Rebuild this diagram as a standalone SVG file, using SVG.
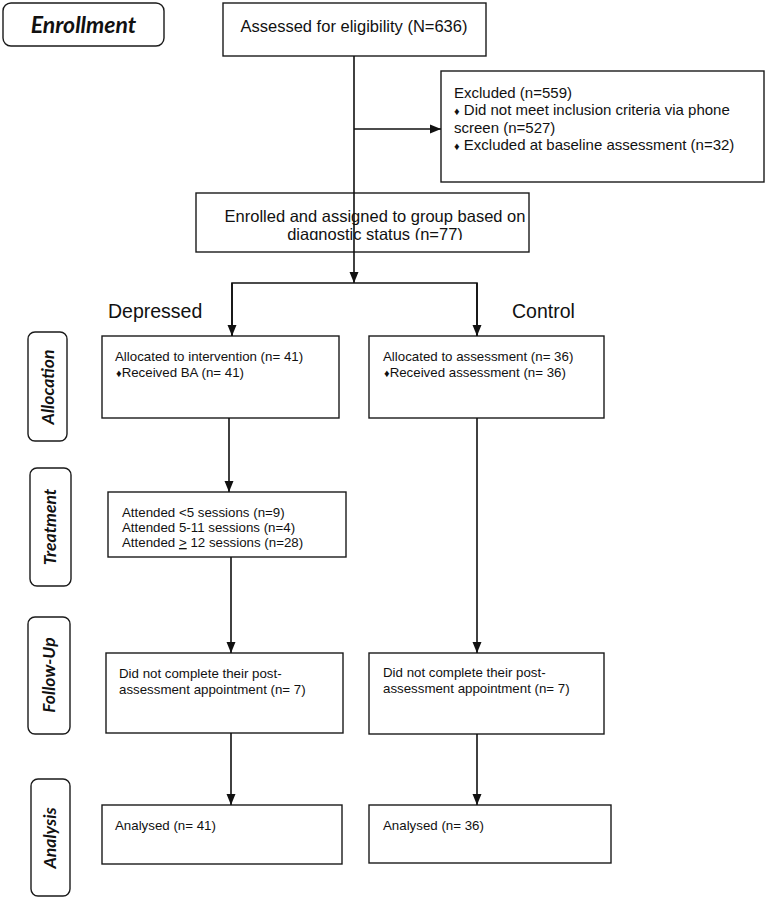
<svg xmlns="http://www.w3.org/2000/svg" width="768" height="900" viewBox="0 0 768 900">
<style>
.box{fill:#fff;stroke:#1a1a1a;stroke-width:1.4}
.lab{fill:#fff;stroke:#1a1a1a;stroke-width:1.4}
.t{font-family:"Liberation Sans",Arial,sans-serif;fill:#111}
.s13{font-size:13.3px}
.s15{font-size:15px}
.s16{font-size:16.5px}
.s19{font-size:19.5px}
.stage{font-family:Lato,"Open Sans",sans-serif;font-weight:bold;font-style:italic;fill:#111}
.b{font-size:11px}
.c{fill:none;stroke:#111;stroke-width:1.6}
</style>
<defs>
<marker id="ah" markerUnits="userSpaceOnUse" markerWidth="11" markerHeight="10" refX="11" refY="5" orient="auto">
<path d="M0,0.5 L11,5 L0,9.5 z" fill="#111"/>
</marker>
<clipPath id="clipEnr"><rect x="196" y="193" width="334" height="47"/></clipPath>
</defs>

<g id="stage-enrollment">
<rect class="lab" x="3" y="3" width="161" height="43" rx="8"/>
<text class="stage" x="83.5" y="33" font-size="23" text-anchor="middle">Enrollment</text>
</g>
<g id="stage-allocation">
<rect class="lab" x="28" y="332" width="39" height="109" rx="7"/>
<text class="stage" font-size="17.5" text-anchor="middle" transform="translate(54 387) rotate(-90)">Allocation</text>
</g>
<g id="stage-treatment">
<rect class="lab" x="30" y="468" width="41" height="118" rx="7"/>
<text class="stage" font-size="17.5" text-anchor="middle" transform="translate(56 527) rotate(-90)">Treatment</text>
</g>
<g id="stage-followup">
<rect class="lab" x="28" y="617" width="42" height="117" rx="7"/>
<text class="stage" font-size="17.5" text-anchor="middle" transform="translate(55 675) rotate(-90)">Follow-Up</text>
</g>
<g id="stage-analysis">
<rect class="lab" x="31" y="779" width="39" height="117" rx="7"/>
<text class="stage" font-size="17.5" text-anchor="middle" transform="translate(56 838) rotate(-90)">Analysis</text>
</g>

<g id="assessed">
<rect class="box" x="223" y="3" width="263" height="53"/>
<text class="t s16" x="354" y="32" text-anchor="middle">Assessed for eligibility (N=636)</text>
</g>
<g id="excluded">
<rect class="box" x="441" y="71" width="323" height="111"/>
<text class="t s15" x="454" y="98">Excluded (n=559)</text>
<text class="t s15" x="454" y="115"><tspan class="b">♦</tspan> Did not meet inclusion criteria via phone</text>
<text class="t s15" x="454" y="133">screen (n=527)</text>
<text class="t s15" x="454" y="150"><tspan class="b">♦</tspan> Excluded at baseline assessment (n=32)</text>
</g>
<g id="enrolled">
<rect class="box" x="196" y="193" width="333" height="59"/>
<g clip-path="url(#clipEnr)">
<text class="t s16" x="375" y="222" text-anchor="middle">Enrolled and assigned to group based on</text>
<text class="t s16" x="375" y="240" text-anchor="middle">diagnostic status (n=77)</text>
</g>
</g>

<g id="label-depressed"><text class="t s19" x="108" y="318">Depressed</text></g>
<g id="label-control"><text class="t s19" x="512" y="318">Control</text></g>

<g id="alloc-dep">
<rect class="box" x="102" y="336" width="237" height="82"/>
<text class="t s13" x="115" y="361">Allocated to intervention (n= 41)</text>
<text class="t s13" x="116" y="377"><tspan class="b">♦</tspan>Received BA (n= 41)</text>
</g>
<g id="alloc-ctl">
<rect class="box" x="369" y="336" width="235" height="82"/>
<text class="t s13" x="383" y="361">Allocated to assessment (n= 36)</text>
<text class="t s13" x="384" y="377"><tspan class="b">♦</tspan>Received assessment (n= 36)</text>
</g>
<g id="treatment-dep">
<rect class="box" x="108" y="492" width="238" height="65"/>
<text class="t s13" x="122" y="517">Attended &lt;5 sessions (n=9)</text>
<text class="t s13" x="122" y="532">Attended 5-11 sessions (n=4)</text>
<text class="t s13" x="122" y="547">Attended <tspan text-decoration="underline">&gt;</tspan> 12 sessions (n=28)</text>
</g>
<g id="followup-dep">
<rect class="box" x="106" y="653" width="237" height="80"/>
<text class="t s13" x="119" y="678">Did not complete their post-</text>
<text class="t s13" x="119" y="694">assessment appointment (n= 7)</text>
</g>
<g id="followup-ctl">
<rect class="box" x="369" y="653" width="235" height="81"/>
<text class="t s13" x="383" y="677">Did not complete their post-</text>
<text class="t s13" x="383" y="693">assessment appointment (n= 7)</text>
</g>
<g id="analysis-dep">
<rect class="box" x="102" y="805" width="240" height="59"/>
<text class="t s13" x="115" y="830">Analysed (n= 41)</text>
</g>
<g id="analysis-ctl">
<rect class="box" x="369" y="805" width="242" height="58"/>
<text class="t s13" x="383" y="830">Analysed (n= 36)</text>
</g>

<g id="connectors">
<line class="c" x1="354" y1="56" x2="354" y2="283" marker-end="url(#ah)"/>
<line class="c" x1="354" y1="129" x2="441" y2="129" marker-end="url(#ah)"/>
<polyline class="c" points="232,336 232,283 477,283 477,336"/>
<line class="c" x1="232" y1="283" x2="232" y2="336" marker-end="url(#ah)"/>
<line class="c" x1="477" y1="283" x2="477" y2="336" marker-end="url(#ah)"/>
<line class="c" x1="229" y1="418" x2="229" y2="492" marker-end="url(#ah)"/>
<line class="c" x1="231" y1="557" x2="231" y2="653" marker-end="url(#ah)"/>
<line class="c" x1="231" y1="733" x2="231" y2="805" marker-end="url(#ah)"/>
<line class="c" x1="477" y1="418" x2="477" y2="653" marker-end="url(#ah)"/>
<line class="c" x1="477" y1="734" x2="477" y2="805" marker-end="url(#ah)"/>
</g>
</svg>
